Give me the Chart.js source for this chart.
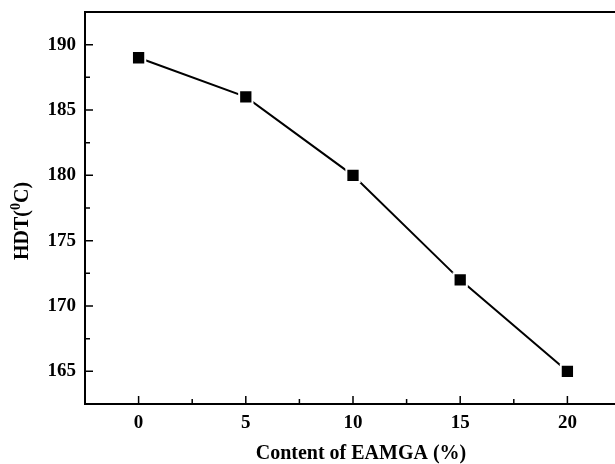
<!DOCTYPE html>
<html lang="en">
<head>
    <meta charset="UTF-8">
    <title>HDT vs EAMGA</title>
    <style>
        html, body { margin: 0; padding: 0; background: #fff; overflow: hidden; }
        #wrap { width: 625px; height: 464px; }
    </style>
</head>
<body>
    <div id="wrap">
        <canvas id="myChart" width="625" height="464"></canvas>
    </div>
    <script src="https://cdn.jsdelivr.net/npm/chart.js@4.4.1/dist/chart.umd.min.js"></script>
    <script>
        // data
        const contents = [0, 5, 10, 15, 20];
        const hdt = [189, 186, 180, 172, 165];
        const xTicks = [0, 5, 10, 15, 20];
        const yTicks = [165, 170, 175, 180, 185, 190];

        const serif = "'Liberation Serif', 'Times New Roman', serif";

        // frame, inward ticks and axis titles
        const framePlugin = {
            id: 'frame',
            afterDraw(chart) {
                const ctx = chart.ctx;
                const a = chart.chartArea;
                const xs = chart.scales.x, ys = chart.scales.y;
                ctx.save();
                ctx.strokeStyle = '#000';
                ctx.lineWidth = 2;
                ctx.strokeRect(a.left, a.top, a.right - a.left, a.bottom - a.top);

                ctx.lineWidth = 1.5;
                ctx.beginPath();
                xTicks.forEach(function (v) {
                    const px = xs.getPixelForValue(v);
                    ctx.moveTo(px, a.bottom); ctx.lineTo(px, a.bottom - 8);
                    const mx = xs.getPixelForValue(v + 2.5);
                    ctx.moveTo(mx, a.bottom); ctx.lineTo(mx, a.bottom - 5);
                });
                yTicks.forEach(function (v) {
                    const py = ys.getPixelForValue(v);
                    ctx.moveTo(a.left, py); ctx.lineTo(a.left + 8, py);
                    const my = ys.getPixelForValue(v - 2.5);
                    ctx.moveTo(a.left, my); ctx.lineTo(a.left + 5, my);
                });
                ctx.stroke();

                ctx.fillStyle = '#000';
                // x title
                ctx.font = 'bold 20px ' + serif;
                ctx.textAlign = 'center';
                ctx.textBaseline = 'middle';
                ctx.fillText('Content of EAMGA (%)', 361, 454);

                // y title with superscript
                ctx.translate(23, 221);
                ctx.rotate(-Math.PI / 2);
                ctx.textAlign = 'left';
                ctx.textBaseline = 'middle';
                const p1 = 'HDT(', p2 = '0', p3 = 'C)';
                ctx.font = 'bold 20px ' + serif;
                const w1 = ctx.measureText(p1).width;
                const w3 = ctx.measureText(p3).width;
                ctx.font = 'bold 14px ' + serif;
                const w2 = ctx.measureText(p2).width;
                let x0 = -(w1 + w2 + w3) / 2;
                ctx.font = 'bold 20px ' + serif;
                ctx.fillText(p1, x0, 0);
                ctx.font = 'bold 14px ' + serif;
                ctx.fillText(p2, x0 + w1, -7);
                ctx.font = 'bold 20px ' + serif;
                ctx.fillText(p3, x0 + w1 + w2, 0);
                ctx.restore();
            }
        };

        const ctx1 = document.getElementById('myChart').getContext('2d');
        const myChart = new Chart(ctx1, {
            type: 'line',
            data: {
                datasets: [{
                    data: contents.map(function (c, i) { return { x: c, y: hdt[i] }; }),
                    borderColor: '#000',
                    backgroundColor: '#000',
                    borderWidth: 2,
                    pointStyle: 'rect',
                    pointRadius: 9.4,
                    // white outline gives the small gap between line and marker
                    pointBorderColor: '#fff',
                    pointBorderWidth: 2,
                    tension: 0
                }]
            },
            options: {
                responsive: false,
                animation: false,
                layout: { autoPadding: false, padding: { top: 12, right: 4, left: 0, bottom: 0 } },
                plugins: {
                    legend: { display: false },
                    tooltip: { enabled: false }
                },
                scales: {
                    x: {
                        type: 'linear',
                        min: -2.5,
                        max: 22.5,
                        grid: { display: false, drawTicks: false, tickLength: 0 },
                        border: { display: false },
                        afterBuildTicks: function (s) { s.ticks = xTicks.map(function (v) { return { value: v }; }); },
                        afterFit: function (s) { s.height = 60; s.paddingLeft = 0; s.paddingRight = 0; },
                        ticks: {
                            color: '#000',
                            padding: 8,
                            font: { family: serif, size: 19, weight: 'bold' }
                        }
                    },
                    y: {
                        min: 162.5,
                        max: 192.5,
                        grid: { display: false, drawTicks: false, tickLength: 0 },
                        border: { display: false },
                        afterBuildTicks: function (s) { s.ticks = yTicks.map(function (v) { return { value: v }; }); },
                        afterFit: function (s) { s.width = 85; s.paddingTop = 0; s.paddingBottom = 0; },
                        ticks: {
                            color: '#000',
                            padding: 9,
                            font: { family: serif, size: 19, weight: 'bold' }
                        }
                    }
                }
            },
            plugins: [framePlugin]
        });
    </script>
</body>
</html>
